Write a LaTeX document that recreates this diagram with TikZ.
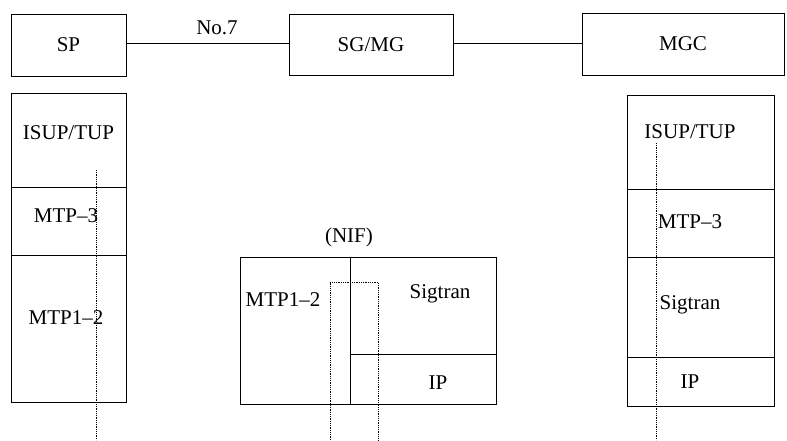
\documentclass[tikz,border=0pt]{standalone}
\usepackage{fontspec}
\setmainfont{Liberation Serif}
\begin{document}
\begin{tikzpicture}[x=1pt,y=-1pt,
  box/.style={draw,line width=0.8pt},
  lbl/.style={font=\fontsize{21}{24}\selectfont,inner sep=0pt},
  dots/.style={densely dotted,line width=0.8pt},
  conn/.style={line width=0.8pt}]
\useasboundingbox (0,0) rectangle (787,440);
% top row
\node[box,minimum width=115pt,minimum height=62pt,lbl] (sp) at (68.5,45) {SP};
\node[box,minimum width=164pt,minimum height=61pt,lbl] (sg) at (371,44.5) {SG/MG};
\node[box,minimum width=202pt,minimum height=62pt,lbl] (mgc) at (683,44) {MGC};
\draw[conn] (sp.east |- 0,43) coordinate (a1) -- (sg.west |- 0,43) coordinate (a2);
\draw[conn] (sg.east |- 0,43) coordinate (b1) -- (mgc.west |- 0,43) coordinate (b2);
\node[lbl] (no7) at (217,28) {No.7};
% left stack
\draw[box] (11,93) rectangle (126,402);
\draw[conn] (11,187) -- (126,187);
\draw[conn] (11,255) -- (126,255);
\node[lbl] (l1) at (68.5,133) {ISUP/TUP};
\node[lbl] (l2) at (66,216) {MTP--3};
\node[lbl] (l3) at (66,318) {MTP1--2};
\coordinate (ld1) at (96,170);
\coordinate (ld2) at (96,440);
\draw[dots] (ld1) -- (ld2);
% middle
\draw[box] (240,257) rectangle (496,404);
\draw[conn] (350,257) -- (350,404);
\draw[conn] (350,354) -- (496,354);
\node[lbl] (m0) at (349,237) {(NIF)};
\node[lbl] (m1) at (283,300) {MTP1--2};
\node[lbl] (m2) at (440,294) {Sigtran};
\node[lbl] (m3) at (438,383) {IP};
\draw[dots] (330,440) -- (330,282) -- (378,282) -- (378,440);
% right stack
\draw[box] (627,95) rectangle (774,406);
\draw[conn] (627,189) -- (774,189);
\draw[conn] (627,257) -- (774,257);
\draw[conn] (627,357) -- (774,357);
\node[lbl] (r1) at (690,132) {ISUP/TUP};
\node[lbl] (r2) at (690,222) {MTP--3};
\node[lbl] (r3) at (690,305) {Sigtran};
\node[lbl] (r4) at (690,382) {IP};
\coordinate (rd1) at (656,143);
\coordinate (rd2) at (656,440);
\draw[dots] (rd1) -- (rd2);
\end{tikzpicture}
\end{document}
